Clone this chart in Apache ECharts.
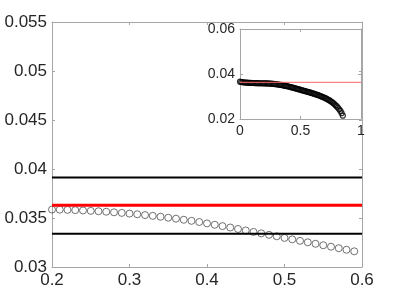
<!DOCTYPE html>
<html>
<head>
<meta charset="utf-8">
<script src="https://cdn.jsdelivr.net/npm/echarts@6/dist/echarts.min.js"></script>
<style>html,body{margin:0;padding:0;background:#fff}#c{width:400px;height:300px}</style>
</head>
<body>
<div id="c"></div>
<script>
// main window samples
var mainX = [0.20,0.21,0.22,0.23,0.24,0.25,0.26,0.27,0.28,0.29,0.30,0.31,0.32,0.33,0.34,0.35,0.36,0.37,0.38,0.39,
             0.40,0.41,0.42,0.43,0.44,0.45,0.46,0.47,0.48,0.49,0.50,0.51,0.52,0.53,0.54,0.55,0.56,0.57,0.58,0.59];
var mainY = [0.03586,0.03585,0.03583,0.03580,0.03577,0.03573,0.03569,0.03564,0.03558,0.03552,
             0.03545,0.03538,0.03530,0.03522,0.03513,0.03503,0.03493,0.03482,0.03471,0.03459,
             0.03445,0.03431,0.03417,0.03403,0.03388,0.03373,0.03358,0.03343,0.03328,0.03313,
             0.03297,0.03282,0.03267,0.03252,0.03237,0.03222,0.03207,0.03192,0.03176,0.03160];
// inset: full curve
var insetX = [0.00,0.01,0.02,0.03,0.04,0.05,0.06,0.07,0.08,0.09,0.10,0.11,0.12,0.13,0.14,0.15,0.16,0.17,0.18,0.19,
              0.20,0.21,0.22,0.23,0.24,0.25,0.26,0.27,0.28,0.29,0.30,0.31,0.32,0.33,0.34,0.35,0.36,0.37,0.38,0.39,
              0.40,0.41,0.42,0.43,0.44,0.45,0.46,0.47,0.48,0.49,0.50,0.51,0.52,0.53,0.54,0.55,0.56,0.57,0.58,0.59,
              0.60,0.61,0.62,0.63,0.64,0.65,0.66,0.67,0.68,0.69,0.70,0.71,0.72,0.73,0.74,0.75,0.76,0.77,0.78,0.79,
              0.80,0.81,0.82,0.83,0.84,0.85];
var insetY = [0.03660,0.03645,0.03636,0.03629,0.03623,0.03618,0.03614,0.03610,0.03607,0.03604,
              0.03601,0.03599,0.03597,0.03595,0.03593,0.03592,0.03590,0.03589,0.03588,0.03587,
              0.03586,0.03585,0.03583,0.03580,0.03577,0.03573,0.03569,0.03564,0.03558,0.03552,
              0.03545,0.03538,0.03530,0.03522,0.03513,0.03503,0.03493,0.03482,0.03471,0.03459,
              0.03445,0.03431,0.03417,0.03403,0.03388,0.03373,0.03358,0.03343,0.03328,0.03313,
              0.03297,0.03282,0.03267,0.03252,0.03237,0.03222,0.03207,0.03192,0.03176,0.03160,
              0.03143,0.03126,0.03108,0.03090,0.03071,0.03051,0.03031,0.03010,0.02988,0.02965,
              0.02940,0.02914,0.02886,0.02856,0.02824,0.02790,0.02752,0.02710,0.02663,0.02610,
              0.02560,0.02500,0.02430,0.02360,0.02260,0.02150];
var upperBound = 0.03914;
var refLevel = 0.0363;
var lowerBound = 0.0334;
var mainXRange = [0.2, 0.6];
var insetXRange = [0, 1];

function pairs(xs, ys){ return xs.map(function(x,i){ return [x, ys[i]]; }); }
function fmt(v){ return String(parseFloat(v.toFixed(4))); }

var axisCol = '#a6a6a6';
var txtCol = '#262626';
var font = 'Liberation Sans';

function axis(type, gridIndex, pos, min, max, interval, labels, fs, margin){
  var a = {
    type: 'value', gridIndex: gridIndex, position: pos, min: min, max: max, interval: interval,
    axisLine: {show: true, onZero: false, lineStyle: {color: axisCol, width: 1}},
    axisTick: {show: true, inside: true, length: 3, lineStyle: {color: axisCol}},
    splitLine: {show: false},
    axisLabel: {show: labels, formatter: fmt, color: txtCol, fontFamily: font, fontSize: fs, margin: margin}
  };
  return a;
}

var chart = echarts.init(document.getElementById('c'), null, {renderer: 'canvas'});
chart.setOption({
  animation: false,
  backgroundColor: '#fff',
  grid: [
    {left: 52, top: 22, width: 310, height: 245},
    {left: 240, top: 29, width: 121, height: 90}
  ],
  xAxis: [
    axis('x', 0, 'bottom', 0.2, 0.6, 0.1, true, 17, 5),
    axis('x', 0, 'top', 0.2, 0.6, 0.1, false, 17, 5),
    axis('x', 1, 'bottom', 0, 1, 0.5, true, 14, 5),
    axis('x', 1, 'top', 0, 1, 0.5, false, 14, 5)
  ],
  yAxis: [
    axis('y', 0, 'left', 0.03, 0.055, 0.005, true, 17, 5),
    axis('y', 0, 'right', 0.03, 0.055, 0.005, false, 17, 5),
    axis('y', 1, 'left', 0.02, 0.06, 0.02, true, 14, 5),
    axis('y', 1, 'right', 0.02, 0.06, 0.02, false, 14, 5)
  ],
  series: [
    {type: 'line', xAxisIndex: 0, yAxisIndex: 0, data: [[mainXRange[0], upperBound],[mainXRange[1], upperBound]],
     symbol: 'none', lineStyle: {color: '#000', width: 2}, silent: true},
    {type: 'line', xAxisIndex: 0, yAxisIndex: 0, data: [[mainXRange[0], lowerBound],[mainXRange[1], lowerBound]],
     symbol: 'none', lineStyle: {color: '#000', width: 2}, silent: true},
    {type: 'scatter', xAxisIndex: 0, yAxisIndex: 0, data: pairs(mainX, mainY),
     symbol: 'circle', symbolSize: 7, itemStyle: {color: 'rgba(255,255,255,0)', borderColor: '#222', borderWidth: 0.8}},
    {type: 'line', xAxisIndex: 0, yAxisIndex: 0, data: [[mainXRange[0], refLevel],[mainXRange[1], refLevel]],
     symbol: 'none', lineStyle: {color: '#ff0000', width: 3}, silent: true},
    {type: 'line', xAxisIndex: 2, yAxisIndex: 2, data: [[insetXRange[0], refLevel],[insetXRange[1], refLevel]],
     symbol: 'none', lineStyle: {color: '#ff6666', width: 1}, silent: true},
    {type: 'scatter', xAxisIndex: 2, yAxisIndex: 2, data: pairs(insetX, insetY),
     symbol: 'circle', symbolSize: 5, itemStyle: {color: 'rgba(255,255,255,0)', borderColor: '#000', borderWidth: 1.2}}
  ]
});
</script>
</body>
</html>
